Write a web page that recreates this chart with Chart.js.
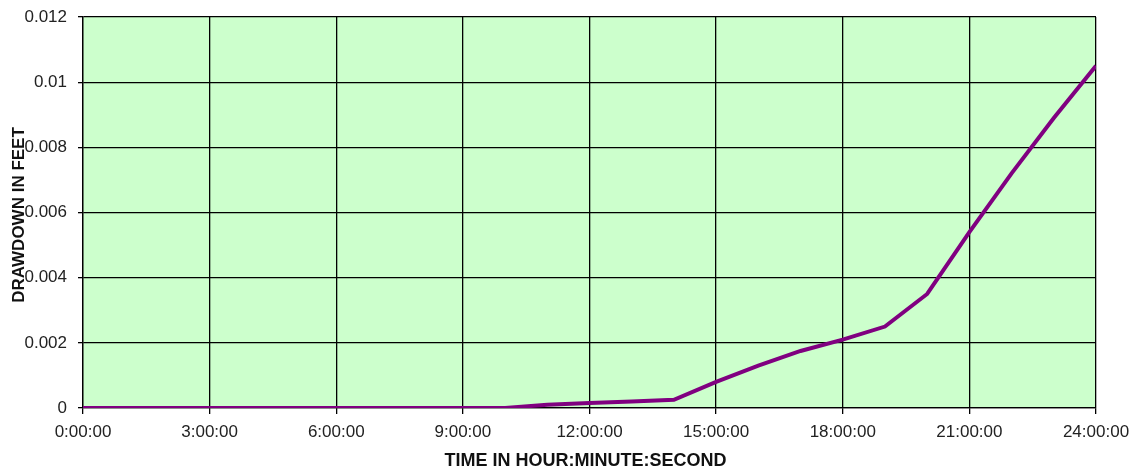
<!DOCTYPE html>
<html>
<head>
<meta charset="utf-8">
<script src="https://cdn.jsdelivr.net/npm/chart.js@4.4.1/dist/chart.umd.min.js"></script>
<style>
html,body{margin:0;padding:0;background:#fff;}
#wrap{width:1138px;height:469px;position:relative;}
</style>
</head>
<body>
<div id="wrap"><canvas id="c" width="1138" height="469"></canvas></div>
<script>
// Time in hours since start
const hours = [0,1,2,3,4,5,6,7,8,9,10,11,12,13,14,15,16,17,18,19,20,21,22,23,24];
// Drawdown in feet
const drawdown = [0,0,0,0,0,0,0,0,0,0,0,0.0001,0.00015,0.0002,0.00025,0.0008,0.0013,0.00175,0.0021,0.0025,0.0035,0.0054,0.0072,0.0089,0.0105];
const xTitle = 'TIME IN HOUR:MINUTE:SECOND';
const yTitle = 'DRAWDOWN IN FEET';
const yTickLabels = ['0','0.002','0.004','0.006','0.008','0.01','0.012'];

const FONT = '"Liberation Sans", Arial, sans-serif';

const bgPlugin = {
  id: 'bg',
  beforeDraw(chart) {
    const {ctx, chartArea: a} = chart;
    ctx.save();
    ctx.fillStyle = '#ccffcc';
    ctx.fillRect(a.left, a.top, a.right - a.left, a.bottom - a.top);
    ctx.restore();
  },
  afterDraw(chart) {
    const {ctx, chartArea: a} = chart;
    ctx.save();
    ctx.fillStyle = '#111';
    ctx.textAlign = 'center';
    ctx.textBaseline = 'middle';
    ctx.font = 'bold 18px ' + FONT;
    ctx.fillText(xTitle, (a.left + a.right) / 2 - 4, 461);
    ctx.font = 'bold 17px ' + FONT;
    ctx.translate(19, 215);
    ctx.rotate(-Math.PI / 2);
    ctx.fillText(yTitle, 0, 0);
    ctx.restore();
  }
};

new Chart(document.getElementById('c'), {
  type: 'line',
  data: {
    datasets: [{
      data: hours.map((h, i) => ({x: h, y: drawdown[i]})),
      borderColor: '#800080',
      borderWidth: 4,
      pointRadius: 0,
      tension: 0,
      fill: false
    }]
  },
  options: {
    responsive: false,
    animation: false,
    layout: {padding: {left: 0, right: 42, top: 17, bottom: 0}},
    plugins: {legend: {display: false}, tooltip: {enabled: false}},
    scales: {
      x: {
        type: 'linear', min: 0, max: 24,
        afterFit(s) { s.height = 61; },
        grid: {color: '#000', lineWidth: 1.3, tickLength: 6, drawTicks: true},
        border: {color: '#000', width: 1.3},
        ticks: {
          stepSize: 3, autoSkip: false, maxRotation: 0, padding: 8,
          color: '#222', font: {family: FONT, size: 17},
          callback: v => v + ':00:00'
        }
      },
      y: {
        min: 0, max: 0.012,
        afterFit(s) { s.width = 83; s.paddingTop = 0; },
        grid: {color: '#000', lineWidth: 1.3, tickLength: 5, drawTicks: true},
        border: {color: '#000', width: 1.3},
        ticks: {
          stepSize: 0.002, padding: 11,
          color: '#222', font: {family: FONT, size: 17},
          callback: (v, i) => yTickLabels[Math.round(v / 0.002)]
        }
      }
    }
  },
  plugins: [bgPlugin]
});
</script>
</body>
</html>
